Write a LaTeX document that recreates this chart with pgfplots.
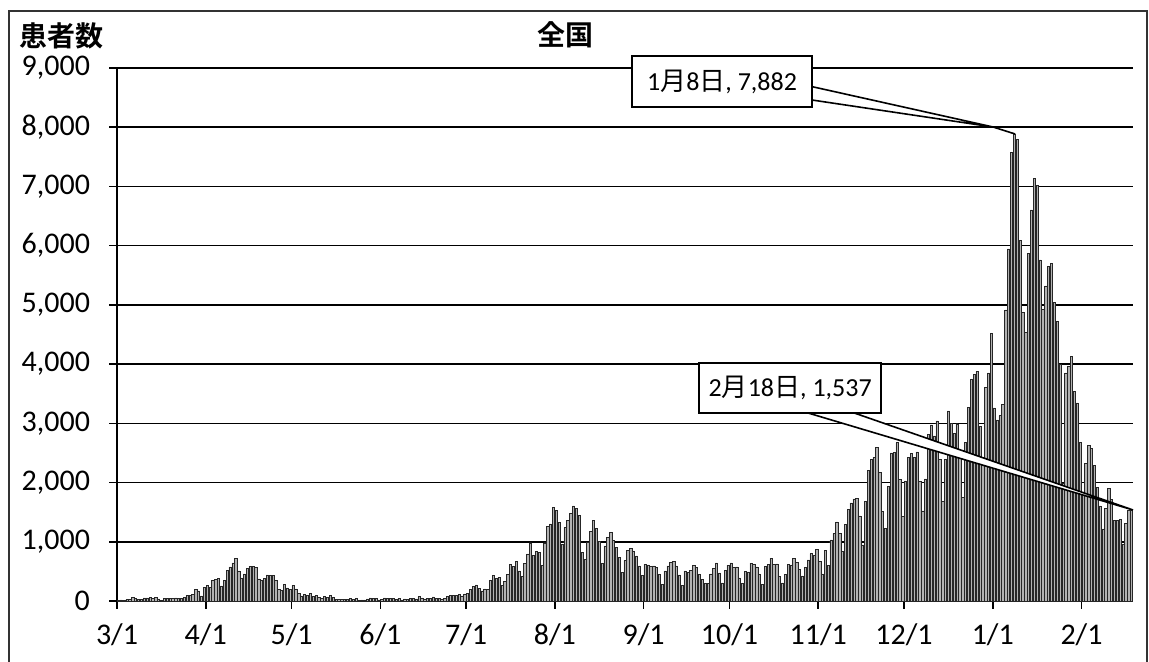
\documentclass[border=0pt]{standalone}
\usepackage{pgfplots}
\pgfplotsset{compat=1.18}
\usepackage{pgfplotstable}
\usepackage{fontspec}
\setmainfont{Carlito}
\newfontfamily\cjk{Noto Sans CJK JP}[BoldFont={* Bold}]

\pgfplotstableread[row sep=\\]{
v\\
14\\18\\13\\33\\33\\59\\47\\33\\26\\54\\52\\55\\41\\56\\35\\15\\44\\39\\39\\45\\53\\41\\38\\65\\93\\96\\112\\194\\173\\87\\225\\
266\\235\\351\\367\\383\\254\\352\\515\\576\\644\\714\\507\\390\\457\\549\\587\\584\\567\\373\\348\\378\\441\\437\\433\\352\\201\\175\\276\\220\\192\\
263\\204\\124\\86\\113\\95\\124\\82\\92\\56\\39\\81\\60\\99\\55\\29\\22\\31\\29\\33\\40\\26\\42\\15\\21\\19\\35\\53\\49\\41\\19\\
33\\51\\41\\40\\40\\33\\48\\17\\35\\24\\40\\42\\35\\73\\52\\37\\40\\40\\69\\48\\42\\25\\47\\77\\89\\94\\99\\108\\86\\119\\
125\\195\\250\\274\\210\\172\\206\\198\\354\\430\\385\\404\\263\\331\\449\\622\\590\\664\\509\\419\\631\\795\\981\\773\\840\\818\\598\\981\\1264\\1301\\1580\\
1536\\1331\\959\\1237\\1356\\1485\\1605\\1565\\1442\\823\\700\\985\\1176\\1360\\1227\\1012\\638\\932\\1072\\1165\\1026\\907\\741\\489\\681\\850\\883\\847\\763\\594\\436\\
620\\609\\580\\594\\573\\444\\279\\509\\593\\648\\667\\594\\443\\269\\510\\489\\521\\606\\567\\445\\371\\298\\297\\456\\557\\644\\473\\306\\520\\606\\
643\\566\\575\\392\\292\\496\\493\\640\\618\\575\\447\\278\\585\\614\\720\\622\\626\\415\\308\\455\\617\\612\\716\\647\\532\\426\\563\\696\\799\\769\\871\\
672\\459\\855\\602\\1032\\1139\\1334\\1142\\838\\1294\\1548\\1659\\1726\\1730\\1439\\947\\1683\\2201\\2386\\2426\\2596\\2169\\1518\\1227\\1938\\2503\\2508\\2675\\2059\\1430\\
2028\\2430\\2499\\2427\\2518\\2025\\1522\\2061\\2810\\2973\\2788\\3041\\2390\\1680\\2391\\3209\\3004\\2835\\2993\\2497\\1756\\2677\\3270\\3740\\3826\\3879\\2949\\2395\\3604\\3853\\4520\\
3260\\3059\\3129\\3323\\4915\\5946\\7570\\7882\\7790\\6094\\4875\\4536\\5875\\6605\\7133\\7014\\5759\\4925\\5320\\5654\\5701\\5044\\4717\\3990\\1990\\3853\\3964\\4132\\3541\\3346\\2673\\
1792\\2324\\2631\\2575\\2286\\1919\\1608\\1219\\1569\\1907\\1710\\1363\\1358\\1373\\960\\1308\\1527\\1537\\
}\cases

\begin{document}
\begin{tikzpicture}
\useasboundingbox (0,0) rectangle (574.5pt,331pt);
\draw[black!80, line width=0.8pt] (4.5pt,-5pt) -- (4.5pt,325.5pt) -- (573.5pt,325.5pt) -- (573.5pt,-5pt);
\node[font=\cjk\bfseries\fontsize{14}{16}\selectfont] at (282.5pt,313.75pt) {全国};
\node[font=\cjk\bfseries\fontsize{14}{16}\selectfont] at (30.5pt,313pt) {患者数};
\begin{axis}[
  at={(58.5pt,30.5pt)}, anchor=south west,
  scale only axis, width=508pt, height=266.5pt,
  xmin=0, xmax=355, ymin=0, ymax=9000,
  axis x line*=bottom, axis y line*=left,
  axis line style={black, line width=0.9pt},
  xtick={0,31,61,92,122,153,184,214,245,275,306,337},
  xticklabels={3/1,4/1,5/1,6/1,7/1,8/1,9/1,10/1,11/1,12/1,1/1,2/1},
  ytick={0,1000,...,9000},
  scaled y ticks=false,
  /pgf/number format/assume math mode=true,
  /pgf/number format/1000 sep={,},
  tick align=outside, major tick length=4pt,
  tick style={black, line width=0.8pt},
  ymajorgrids, grid style={black, line width=0.8pt},
  ticklabel style={font=\fontsize{15}{17}\selectfont, text=black},
  yticklabel style={anchor=east, xshift=-6pt},
  xticklabel style={anchor=north, yshift=-4pt},
  clip=false,
]
\addplot[ybar, bar width=0.8, fill=gray!60, draw=black!85, line width=0.25pt]
  table[x expr=\coordindex+0.5, y=v] {\cases};

% callout 1
\filldraw[fill=white, draw=black, line width=0.8pt]
  (axis cs:242.8,8686) -- (axis cs:306.1,8004) -- (axis cs:242.8,8460) -- cycle;
\draw[black, line width=0.8pt] (axis cs:306.1,8004) -- (axis cs:313.8,7886);
\node[draw=black, fill=white, line width=0.8pt, minimum width=90pt, minimum height=25.5pt, inner sep=1pt,
  font=\fontsize{13}{15}\selectfont] at (axis cs:211.4,8772) {1{\cjk 月}8{\cjk 日}, 7,882};
% callout 2
\filldraw[fill=white, draw=black, line width=0.8pt]
  (axis cs:239.7,3200) -- (axis cs:355,1537) -- (axis cs:256.1,3200) -- cycle;
\node[draw=black, fill=white, line width=0.8pt, minimum width=91pt, minimum height=25pt, inner sep=1pt,
  font=\fontsize{13}{15}\selectfont] at (axis cs:235.2,3597) {2{\cjk 月}18{\cjk 日}, 1,537};
\end{axis}
\end{tikzpicture}
\end{document}
